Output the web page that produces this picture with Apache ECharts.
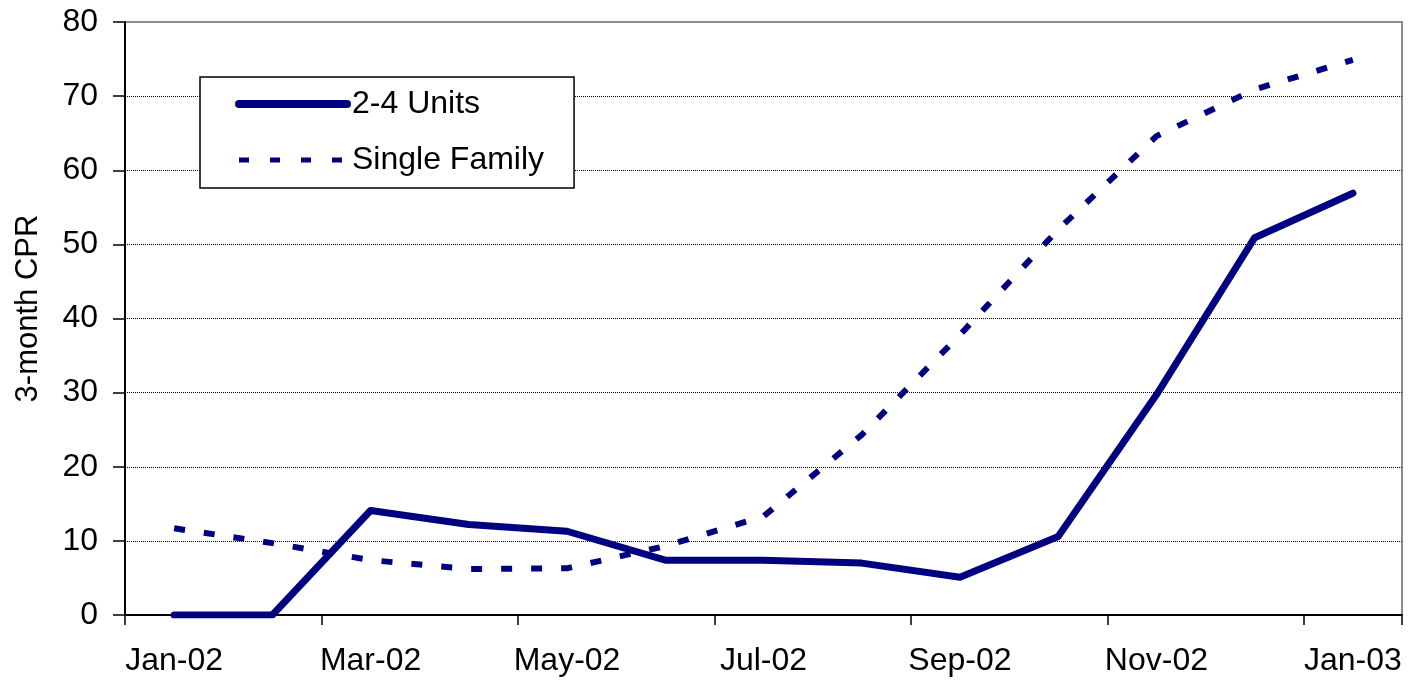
<!DOCTYPE html>
<html>
<head>
<meta charset="utf-8">
<style>
  html, body { margin: 0; padding: 0; background: #fff; }
  #chart { width: 1412px; height: 680px; }
</style>
<script src="https://cdn.jsdelivr.net/npm/echarts@6/dist/echarts.min.js"></script>
</head>
<body>
<div id="chart"></div>
<script>
// Monthly categories, Jan-02 through Jan-03
const months = ['Jan-02', 'Feb-02', 'Mar-02', 'Apr-02', 'May-02', 'Jun-02', 'Jul-02',
                'Aug-02', 'Sep-02', 'Oct-02', 'Nov-02', 'Dec-02', 'Jan-03'];

// 3-month CPR by property type
const units2to4 = [0, 0, 14.1, 12.2, 11.3, 7.4, 7.4, 7.0, 5.1, 10.6, 29.7, 50.9, 56.9];
const singleFamily = [11.7, 9.7, 7.4, 6.2, 6.3, 9.3, 13.3, 24.3, 37.8, 52.0, 64.6, 70.9, 74.9];

const yTicks = [0, 10, 20, 30, 40, 50, 60, 70, 80];

const FONT = 'Liberation Sans, Arial, sans-serif';
const NAVY = '#000080';
const SOLID = { color: NAVY, width: 7, type: 'solid', cap: 'round', join: 'round' };
const DASHED = { color: NAVY, width: 6, type: [11, 19], cap: 'butt' };

const chart = echarts.init(document.getElementById('chart'), null, { renderer: 'canvas' });

// gridlines: black dotted, except the top one, which the plot border covers
const splitColors = yTicks.map((v, i) => i === yTicks.length - 1 ? 'rgba(0,0,0,0)' : '#000');

chart.setOption({
  animation: false,
  backgroundColor: '#fff',
  grid: {
    left: 125, right: 10, top: 22, bottom: 65,
    outerBoundsMode: 'none',
    containLabel: false,
    show: true,
    borderColor: '#8c8c8c',
    borderWidth: 2,
    backgroundColor: '#fff'
  },
  legend: {
    left: 200, top: 77,
    orient: 'vertical',
    backgroundColor: '#fff',
    borderColor: '#000',
    borderWidth: 1.5,
    padding: [11, 30, 12, 35],
    itemWidth: 108,
    itemHeight: 30,
    itemGap: 24,
    itemStyle: { opacity: 0 },
    textStyle: { fontFamily: FONT, fontSize: 32, color: '#000', lineHeight: 30 },
    data: [
      { name: '2-4 Units', lineStyle: { width: 8, type: 'solid', color: NAVY, cap: 'round' } },
      { name: 'Single Family', lineStyle: { width: 5, type: [10, 21], color: NAVY, cap: 'butt' } }
    ]
  },
  xAxis: {
    type: 'category',
    data: months,
    boundaryGap: true,
    axisLine: { lineStyle: { color: '#000', width: 2 } },
    axisTick: { show: true, interval: (i) => i % 2 === 0, length: 10, lineStyle: { color: '#000', width: 1.5 } },
    axisLabel: { interval: 1, margin: 30, fontFamily: FONT, fontSize: 32, color: '#000' },
    splitLine: { show: false }
  },
  yAxis: {
    type: 'value',
    min: 0, max: 80, interval: 10,
    name: '3-month CPR',
    nameLocation: 'middle',
    nameGap: 81,
    nameRotate: 90,
    nameMoveOverlap: false,
    nameTextStyle: { fontFamily: FONT, fontSize: 31, color: '#000', padding: [0, 0, 0, 20] },
    axisLine: { show: true, lineStyle: { color: '#000', width: 2 } },
    axisTick: { show: true, length: 12, lineStyle: { color: '#000', width: 1.5 } },
    axisLabel: { margin: 27, fontFamily: FONT, fontSize: 32, color: '#000' },
    splitLine: { show: true, lineStyle: { color: splitColors, width: 1, type: [1, 1] } }
  },
  series: [
    {
      name: '2-4 Units',
      type: 'line',
      data: units2to4,
      symbol: 'none',
      z: 3,
      lineStyle: SOLID,
      itemStyle: { color: NAVY }
    },
    {
      name: 'Single Family',
      type: 'line',
      data: singleFamily,
      symbol: 'none',
      z: 3,
      lineStyle: DASHED,
      itemStyle: { color: NAVY }
    }
  ]
});
</script>
</body>
</html>
